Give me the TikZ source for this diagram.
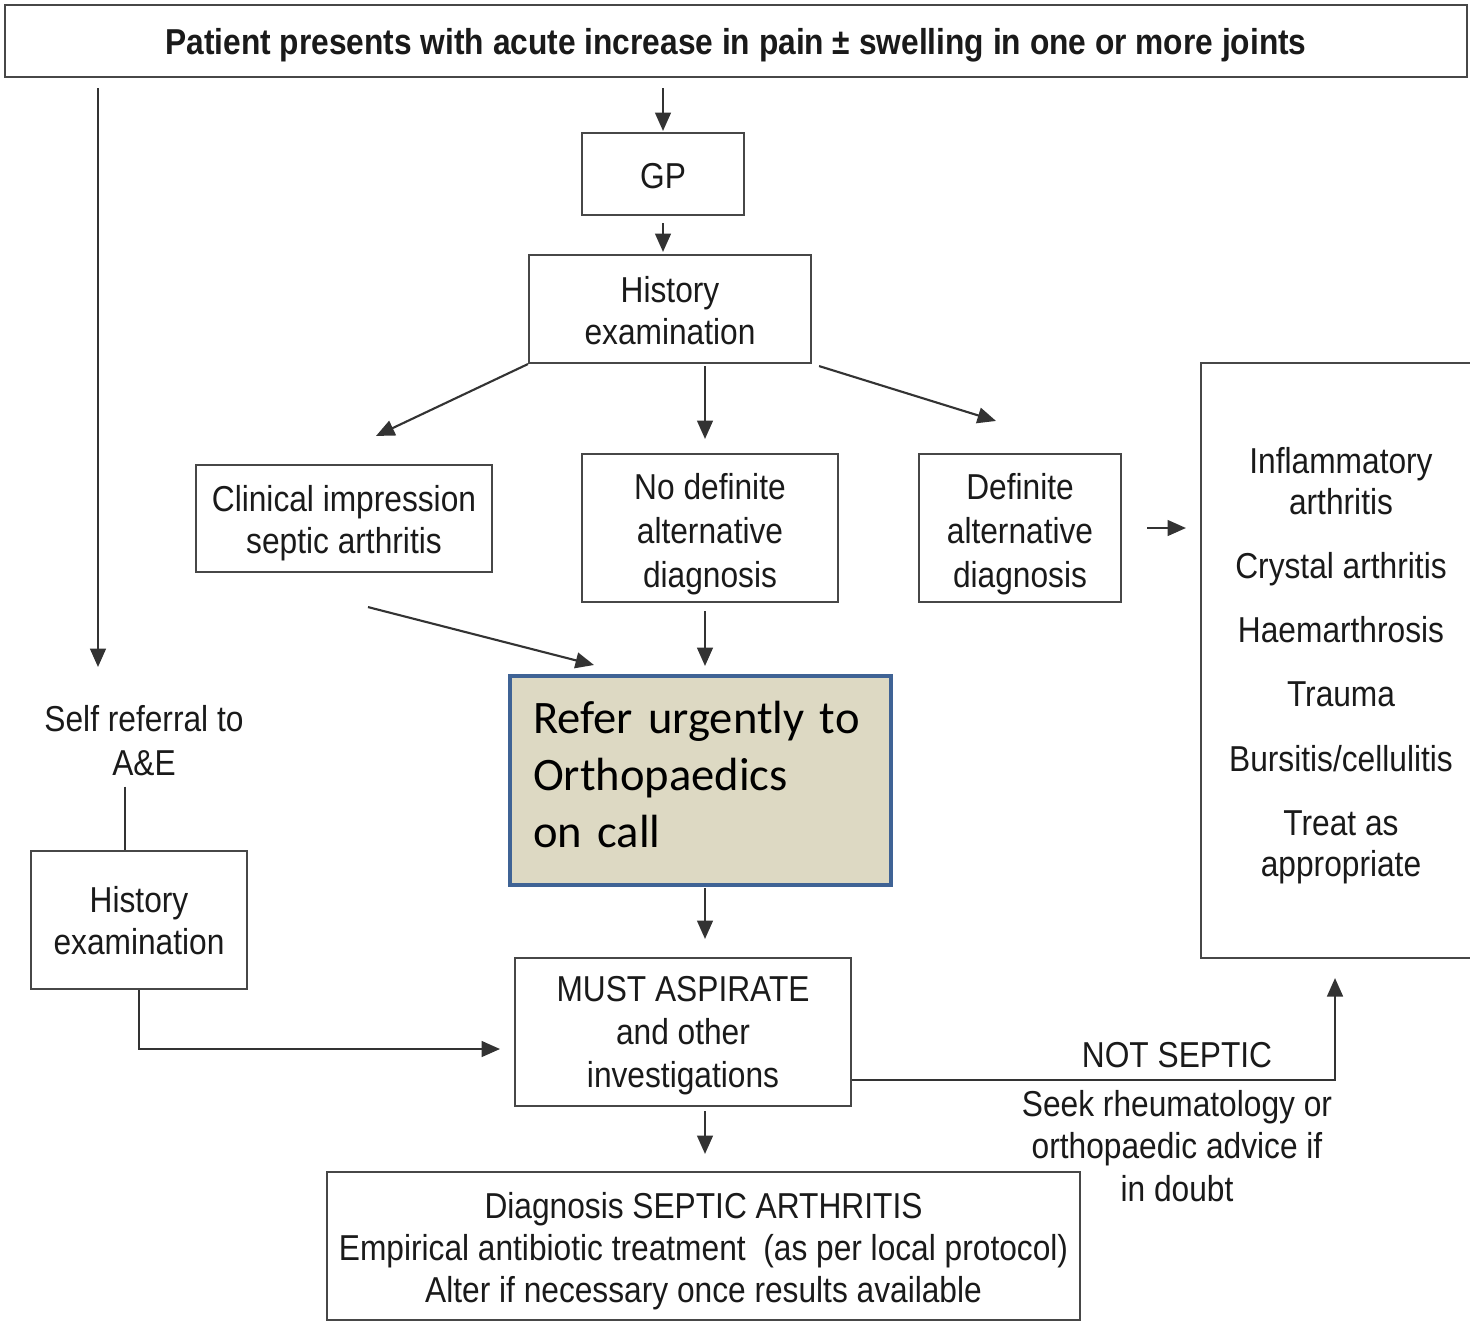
\documentclass[tikz,border=0pt]{standalone}
\usepackage{fontspec}
\setmainfont{Liberation Sans}[FakeStretch=0.88]
\newfontfamily\calfont{Carlito}
\usetikzlibrary{arrows.meta,calc}
\newcommand{\pxl}[1]{#1*0.02cm}
\definecolor{txt}{HTML}{1A1A1A}
\definecolor{lncol}{HTML}{333333}
\definecolor{refbg}{HTML}{DDD9C3}
\definecolor{refbord}{HTML}{3F6395}
\begin{document}
\begin{tikzpicture}[x=0.02cm,y=-0.02cm,
  font=\fontsize{20.5}{24}\selectfont, text=txt,
  box/.style={draw=lncol!90, line width=1.2pt, inner sep=0pt},
  tx/.style={inner sep=0pt, align=center, label distance=0pt, text=txt},
  arr/.style={draw=lncol, line width=1.2pt, -{Triangle[length=10.5pt,width=9pt]}},
  conn/.style={draw=lncol, line width=1.2pt},
  lbl/.style={inner sep=0pt, align=center},
  wide/.style={font=\fontsize{20.5}{25}\selectfont}]
\fill[white] (0,0) rectangle (1470,1326);
\useasboundingbox (0,0) rectangle (1470,1326);
\clip (0,0) rectangle (1470,1326);

% boxes
\node[box, minimum width={\pxl{1462}}, minimum height={\pxl{72}},
  label={[tx, yshift={-\pxl{4}}]center:\textbf{Patient presents with acute increase in pain ± swelling in one or more joints}}] (top) at (736,41) {};
\node[box, minimum width={\pxl{162}}, minimum height={\pxl{82}},
  label={[tx, yshift={-\pxl{2}}]center:GP}] (gp) at (663,174) {};
\node[box, minimum width={\pxl{282}}, minimum height={\pxl{108}},
  label={[tx, yshift={-\pxl{2}}]center:History\\examination}] (hist) at (670,309) {};
\node[box, minimum width={\pxl{296}}, minimum height={\pxl{107}},
  label={[tx, yshift={-\pxl{5}}]center:Clinical impression\\septic arthritis}] (clin) at (344,518.5) {};
\node[box, minimum width={\pxl{256}}, minimum height={\pxl{148}},
  label={[tx, wide, yshift={-\pxl{6}}]center:No definite\\alternative\\diagnosis}] (nodef) at (710,528) {};
\node[box, minimum width={\pxl{202}}, minimum height={\pxl{148}},
  label={[tx, wide, yshift={-\pxl{6}}]center:Definite\\alternative\\diagnosis}] (def) at (1020,528) {};
\node[box, minimum width={\pxl{280}}, minimum height={\pxl{595}},
  label={[tx, font=\fontsize{20.5}{23.5}\selectfont, yshift={-\pxl{5}}]center:Inflammatory\\arthritis\\[13pt]Crystal arthritis\\[13pt]Haemarthrosis\\[13pt]Trauma\\[13pt]Bursitis/cellulitis\\[13pt]Treat as\\appropriate}] (rbox) at (1341,660.5) {};
\node[draw=refbord, fill=refbg, line width=2.3pt, inner sep=0pt, minimum width={\pxl{381}}, minimum height={\pxl{209}},
  label={[inner sep=0pt, text width={\pxl{335}}, align=left, text=black, font=\calfont\fontsize{26.5}{32.7}\selectfont, yshift={\pxl{6}}]center:Refer urgently to\\Orthopaedics\\on call}] (refer) at (700.5,780.5) {};
\node[lbl, wide] (selfref) at (144,741) {Self referral to\\A\&E};
\node[box, minimum width={\pxl{216}}, minimum height={\pxl{138}},
  label={[tx, yshift={-\pxl{1}}]center:History\\examination}] (lhist) at (139,920) {};
\node[box, minimum width={\pxl{336}}, minimum height={\pxl{148}},
  label={[tx, font=\fontsize{20.5}{24.5}\selectfont, yshift={-\pxl{4}}]center:MUST ASPIRATE\\and other\\investigations}] (must) at (683,1032) {};
\node[box, minimum width={\pxl{753}}, minimum height={\pxl{148}},
  label={[tx, yshift={-\pxl{5}}]center:Diagnosis SEPTIC ARTHRITIS\\Empirical antibiotic treatment\ \ (as per local protocol)\\Alter if necessary once results available}] (diag) at (703.5,1246) {};
\node[lbl] (notsep) at (1177,1055) {NOT SEPTIC};
\node[lbl] (seek) at (1177,1146) {Seek rheumatology or\\orthopaedic advice if\\in doubt};

% helper coordinates
\coordinate (lcol) at (98,667);
\coordinate (vx) at (705,0);
\coordinate (lv) at (125,0);
\coordinate (mv) at (500,1049);
\coordinate (ncorner) at (1335,1080);

% connectors
\draw[arr, shorten <={\pxl{10}}] (top.south -| lcol) -- (lcol);
\draw[arr, shorten <={\pxl{10}}, shorten >={\pxl{1}}] (top.south -| gp.north) -- (gp.north);
\draw[arr, shorten <={\pxl{7}}, shorten >={\pxl{2}}] (gp.south) -- (hist.north -| gp.south);
\draw[arr] (hist.south west) -- ([shift={(32,-28)}]clin.north);
\draw[arr, shorten <={\pxl{2}}, shorten >={\pxl{14}}] (hist.south -| vx) -- (nodef.north -| vx);
\draw[arr] ([shift={(7,2)}]hist.south east) -- ([shift={(-24,-32)}]def.north);
\draw[arr, shorten <={\pxl{25}}, shorten >={\pxl{14}}] (def.east) -- (def.east -| rbox.west);
\draw[arr] ([shift={(24,34)}]clin.south) -- ([shift={(86,-9)}]refer.north west);
\draw[arr, shorten <={\pxl{8}}, shorten >={\pxl{8}}] (nodef.south -| vx) -- (refer.north -| vx);
\draw[arr, shorten <={\pxl{1}}, shorten >={\pxl{18}}] (refer.south -| vx) -- (must.north -| vx);
\draw[conn, shorten <={\pxl{10}}] (selfref.south -| lv) -- (lhist.north -| lv);
\draw[arr] (lhist.south) |- (mv);
\draw[arr, shorten >={\pxl{19}}] (must.east |- ncorner) -- (ncorner) -- (ncorner |- rbox.south);
\draw[arr, shorten <={\pxl{4}}, shorten >={\pxl{17}}] (must.south -| vx) -- (diag.north -| vx);
\end{tikzpicture}
\end{document}
